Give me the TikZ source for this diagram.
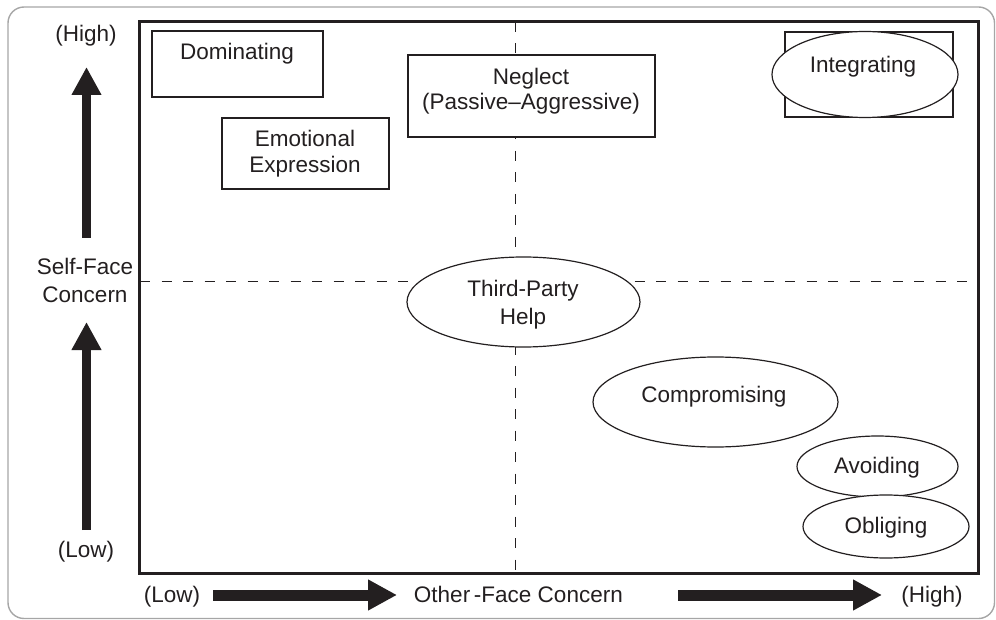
\documentclass[tikz,border=0pt]{standalone}
\usepackage{fontspec}
\setmainfont{Liberation Sans}
\usetikzlibrary{shapes.geometric,arrows.meta}
\definecolor{ink}{HTML}{231F20}
\definecolor{rim}{HTML}{A6A6A6}
\begin{document}
\begin{tikzpicture}[x=1pt,y=-1pt,
  rim/.style={draw=rim,line width=1.4pt,rounded corners=16pt},
  frame/.style={draw=ink,line width=3pt},
  midline/.style={draw=ink,line width=1.2pt,dash pattern=on 10pt off 11.5pt},
  stylebox/.style={draw=ink,line width=1.2pt,fill=white,rectangle,inner sep=0pt},
  styleoval/.style={draw=ink,line width=1.2pt,fill=white,ellipse,inner sep=0pt},
  lbl/.style={text=ink,anchor=base,inner sep=0pt,font=\fontsize{22.5}{27}\selectfont},
  axlbl/.style={text=ink,anchor=base,inner sep=0pt,font=\fontsize{20}{24}\selectfont},
  vaxis/.style={draw=ink,line width=9pt,-{Triangle[length=28pt,width=28pt]}},
  haxis/.style={draw=ink,line width=11pt,-{Triangle[length=29pt,width=29pt]}},
]
\useasboundingbox (0,0) rectangle (996,620);

% outer rounded panel
\coordinate (pTL) at (8,7);
\coordinate (pBR) at (994.5,618.5);
\draw[rim] (pTL) rectangle (pBR);

% quadrant dividers
\coordinate (vTop) at (515.5,22);
\coordinate (vBot) at (515.5,573);
\coordinate (hLeft) at (140,281.5);
\coordinate (hRight) at (978,281.5);
\draw[midline] (vTop) -- (vBot);
\draw[midline] (hLeft) -- (hRight);

% plotting frame
\coordinate (fTL) at (139.5,22);
\coordinate (fBR) at (978,573);
\draw[frame] (fTL) rectangle (fBR);

% rectangular styles
\node[stylebox,minimum width=171pt,minimum height=66pt] (dom) at (237.5,64) {};
\node[stylebox,minimum width=167pt,minimum height=71pt] (emo) at (305.5,153.5) {};
\node[stylebox,minimum width=247pt,minimum height=82pt] (neg) at (531.5,96) {};
\node[stylebox,minimum width=168pt,minimum height=85pt] (intbox) at (869,74.5) {};

% oval styles
\node[styleoval,minimum width=186pt,minimum height=86pt] (int) at (865,74.5) {};
\node[styleoval,minimum width=233pt,minimum height=90pt] (tph) at (523.5,302) {};
\node[styleoval,minimum width=245pt,minimum height=90pt] (com) at (715.5,402) {};
\node[styleoval,minimum width=161pt,minimum height=61pt] (avo) at (877.5,466.5) {};
\node[styleoval,minimum width=166pt,minimum height=63pt] (obl) at (886,526.5) {};

% style names
\node[lbl] (tDom) at (237,60) {Dominating};
\node[lbl] (tEmo1) at (305,147) {Emotional};
\node[lbl] (tEmo2) at (305,173) {Expression};
\node[lbl] (tNeg1) at (531,85) {Neglect};
\node[lbl] (tNeg2) at (531,110) {(Passive–Aggressive)};
\node[lbl] (tInt) at (863,73) {Integrating};
\node[lbl] (tTph1) at (523,297) {Third-Party};
\node[lbl] (tTph2) at (523,324) {Help};
\node[lbl] (tCom) at (714,402) {Compromising};
\node[lbl] (tAvo) at (877,473) {Avoiding};
\node[lbl] (tObl) at (886,533) {Obliging};

% vertical axis
\node[lbl] (yHigh) at (86,42) {(High)};
\node[lbl] (ySelf1) at (85,275) {Self-Face};
\node[lbl] (ySelf2) at (85,303) {Concern};
\node[lbl] (yLow) at (86,557) {(Low)};
\coordinate (ua0) at (86.5,238);
\coordinate (ua1) at (86.5,67);
\coordinate (la0) at (86.5,530);
\coordinate (la1) at (86.5,322);
\draw[vaxis] (ua0) -- (ua1);
\draw[vaxis] (la0) -- (la1);

% horizontal axis
\node[lbl] (xLow) at (172,602) {(Low)};
\node[lbl,anchor=base east] (xOther) at (623,602) {Other\,-Face Concern};
\node[lbl] (xHigh) at (932,602) {(High)};
\coordinate (ba0) at (213,595);
\coordinate (ba1) at (397,595);
\coordinate (bb0) at (678,595);
\coordinate (bb1) at (882,595);
\draw[haxis] (ba0) -- (ba1);
\draw[haxis] (bb0) -- (bb1);
\end{tikzpicture}
\end{document}
